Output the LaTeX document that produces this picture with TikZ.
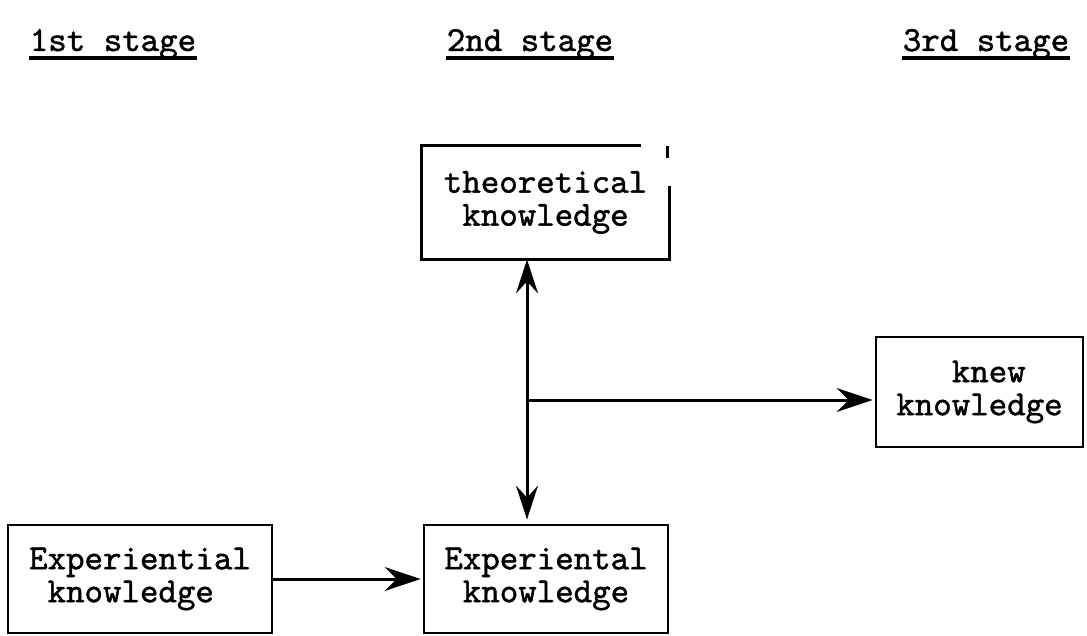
\documentclass[tikz,border=0pt]{standalone}
\usepackage{fontspec}
\newfontfamily\typewriter{lmmono10-regular}[Extension=.otf, FakeBold=1.3]
\usetikzlibrary{calc,arrows.meta}

\begin{document}
\begin{tikzpicture}[x=0.5pt, y=-0.5pt,
  every node/.style={font=\typewriter\fontsize{17.6}{16.5}\selectfont},
  stagebox/.style={draw, line width=1.4pt, align=center, inner sep=0pt},
  boxline/.style={line width=1.4pt, line join=miter},
  header/.style={inner sep=0pt},
  uline/.style={line width=1.6pt},
  link/.style={line width=1.5pt, shorten >=1pt,
    -{Stealth[length=18pt, width=12pt, inset=6pt]}},
  twoway/.style={line width=1.5pt,
    {Stealth[length=17pt, width=11pt, inset=6pt]}-{Stealth[length=17pt, width=11pt, inset=6pt]}},
]
  \useasboundingbox (0,0) rectangle (1087,636);

  % Stage headers
  \node[header, anchor=base] (first) at (113,51) {1st stage};
  \node[header, anchor=base] (second) at (530,51) {2nd stage};
  \node[header, anchor=base] (third) at (986,51) {3rd stage};
  \draw[uline] ($(first.base west)+(0,7)$) -- ($(first.base east)+(0,7)$);
  \draw[uline] ($(second.base west)+(0,7)$) -- ($(second.base east)+(0,7)$);
  \draw[uline] ($(third.base west)+(0,7)$) -- ($(third.base east)+(0,7)$);

  % Knowledge boxes
  \node[stagebox, draw=none, minimum width=122.5pt, minimum height=55.5pt]
    (theory) at (545.5,202.5) {theoretical\\knowledge};
  \draw[boxline] ($(theory.north east)+(-28,0)$) -- (theory.north west)
    -- (theory.south west) -- (theory.south east) -- ($(theory.north east)+(0,40)$);
  \draw[boxline] ($(theory.north east)+(-2,0)$) -- ++(0,12);
  \node[stagebox, align=left, minimum width=103.5pt, minimum height=55pt]
    (knew) at (979.5,392) {~~~knew\\knowledge};
  \node[stagebox, align=left, minimum width=132pt, minimum height=54pt]
    (exp1) at (140,579) {Experiential\\~knowledge};
  \node[stagebox, minimum width=122pt, minimum height=54pt]
    (exp2) at (546,579) {Experiental\\knowledge};

  % Arrows
  \coordinate (split) at (527,400);
  \draw[twoway, shorten >=2pt] (split |- theory.south) -- (split |- exp2.north);
  \draw[link] (split) -- (split -| knew.west);
  \draw[link] (exp1) -- (exp2);
\end{tikzpicture}
\end{document}
